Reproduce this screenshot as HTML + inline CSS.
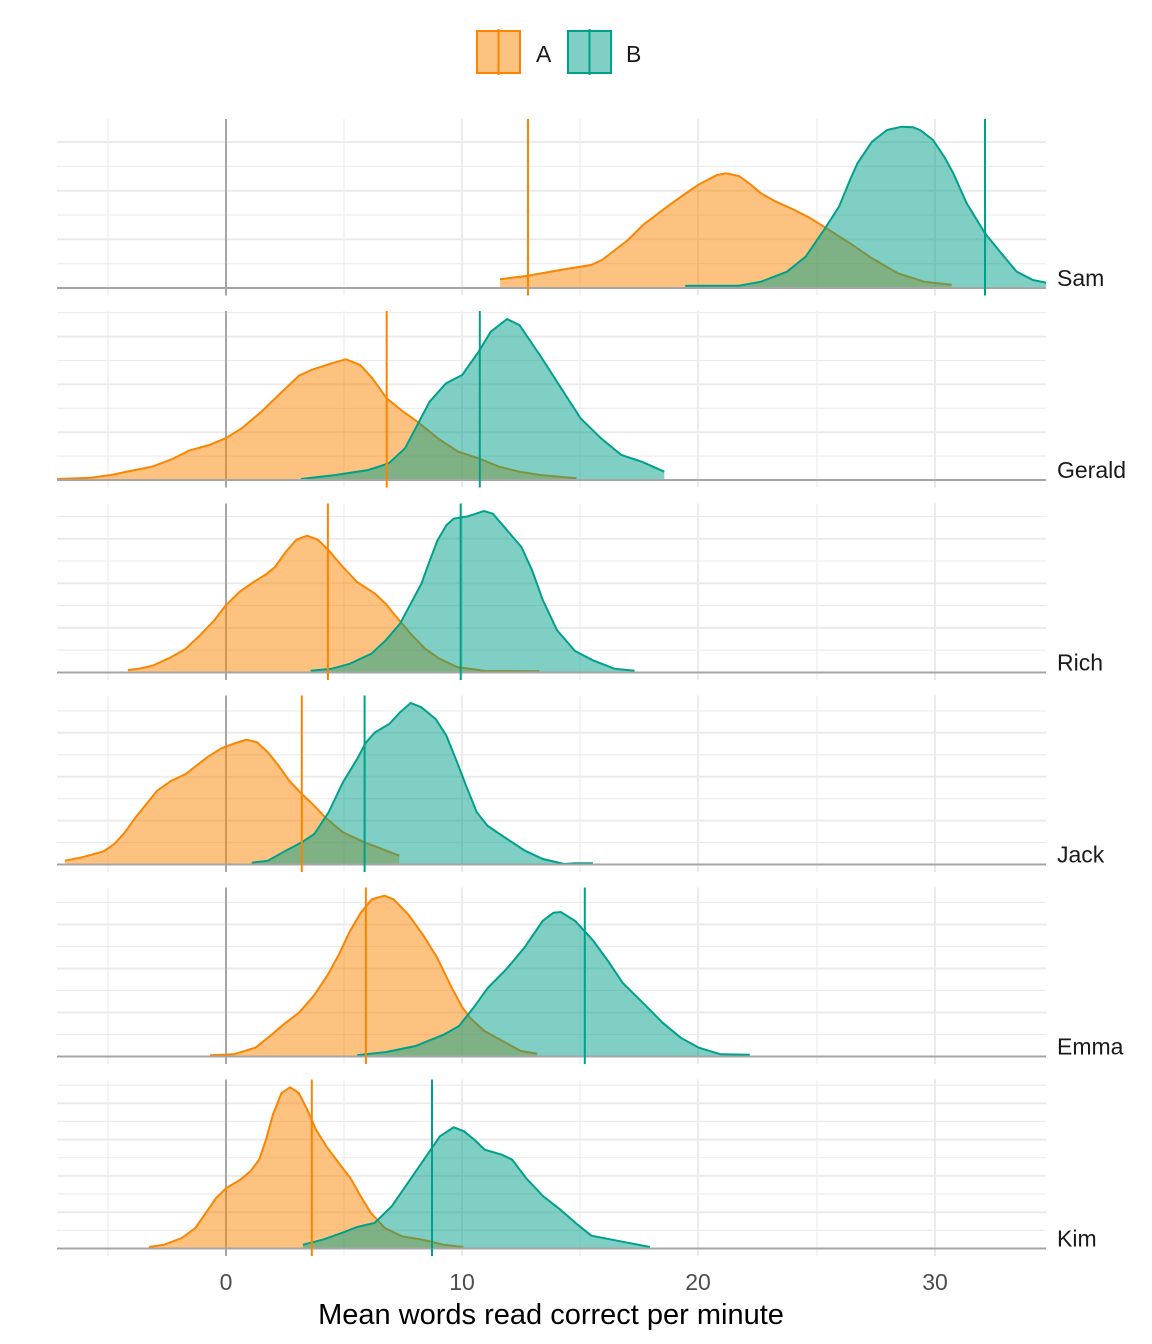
<!DOCTYPE html>
<html>
<head>
<meta charset="utf-8">
<style>
html,body{margin:0;padding:0;background:#fff;}
svg{display:block;}
text{font-family:"Liberation Sans",Arial,sans-serif;}
</style>
</head>
<body>
<svg width="1152" height="1344" viewBox="0 0 1152 1344" xmlns="http://www.w3.org/2000/svg">
<rect width="1152" height="1344" fill="#fff"/>
<defs>
<clipPath id="cp"><rect x="57" y="0" width="989" height="1344"/></clipPath>
</defs>

<!-- Legend -->
<rect x="477" y="31" width="43" height="42" fill="#FB8500" fill-opacity="0.5" stroke="#FB8500" stroke-width="2"/>
<line x1="498.5" y1="29" x2="498.5" y2="75" stroke="#FB8500" stroke-width="2"/>
<text x="536" y="62" font-size="23" fill="#1A1A1A">A</text>
<rect x="568" y="31" width="43" height="42" fill="#00A08A" fill-opacity="0.5" stroke="#00A08A" stroke-width="2"/>
<line x1="589.5" y1="29" x2="589.5" y2="75" stroke="#00A08A" stroke-width="2"/>
<text x="626" y="62" font-size="23" fill="#1A1A1A">B</text>

<!-- ============ SAM (baseline 288) ============ -->
<g>
<g stroke="#EBEBEB">
<line x1="57" x2="1046" y1="263.7" y2="263.7" stroke-width="1.1"/>
<line x1="57" x2="1046" y1="239.3" y2="239.3" stroke-width="2"/>
<line x1="57" x2="1046" y1="215" y2="215" stroke-width="1.1"/>
<line x1="57" x2="1046" y1="190.7" y2="190.7" stroke-width="2"/>
<line x1="57" x2="1046" y1="166.3" y2="166.3" stroke-width="1.1"/>
<line x1="57" x2="1046" y1="142" y2="142" stroke-width="2"/>
<line x1="108" x2="108" y1="119" y2="295.5" stroke-width="1.1"/>
<line x1="344" x2="344" y1="119" y2="295.5" stroke-width="1.1"/>
<line x1="462" x2="462" y1="119" y2="295.5" stroke-width="2"/>
<line x1="580" x2="580" y1="119" y2="295.5" stroke-width="1.1"/>
<line x1="698" x2="698" y1="119" y2="295.5" stroke-width="2"/>
<line x1="817" x2="817" y1="119" y2="295.5" stroke-width="1.1"/>
<line x1="935" x2="935" y1="119" y2="295.5" stroke-width="2"/>
</g>
<line x1="226" x2="226" y1="119" y2="295.5" stroke="#A6A6A6" stroke-width="2"/>
<g clip-path="url(#cp)">
<path d="M500,288 L500,279.3 528,275.7 560,270 591,265 602,260 615,250 628,240 643,225 665,208.3 682,196 698,185 717,175 726,173.3 739,176 750,184 761,193.3 776,201.7 794.5,210 810,218 824,226.7 850,243.3 872,258.3 898,273.3 924,281.7 951.7,284.7 L951.7,288 Z" fill="#FB8500" fill-opacity="0.5"/>
<polyline points="500,279.3 528,275.7 560,270 591,265 602,260 615,250 628,240 643,225 665,208.3 682,196 698,185 717,175 726,173.3 739,176 750,184 761,193.3 776,201.7 794.5,210 810,218 824,226.7 850,243.3 872,258.3 898,273.3 924,281.7 951.7,284.7" fill="none" stroke="#FB8500" stroke-width="2"/>
<path d="M685.3,288 L685.3,285.7 739,285.7 761,281.7 787,271.7 805.6,256.7 824,230 839,206.7 850,180 857.4,163.3 872,141.7 887,130 901.8,126.7 913,127.3 920,130 933,140 945,158 953.3,173.3 966.7,203.3 985,233.3 1000,251.7 1016.7,271.7 1033,280 1046,282.7 L1046,288 Z" fill="#00A08A" fill-opacity="0.5"/>
<polyline points="685.3,285.7 739,285.7 761,281.7 787,271.7 805.6,256.7 824,230 839,206.7 850,180 857.4,163.3 872,141.7 887,130 901.8,126.7 913,127.3 920,130 933,140 945,158 953.3,173.3 966.7,203.3 985,233.3 1000,251.7 1016.7,271.7 1033,280 1046,282.7" fill="none" stroke="#00A08A" stroke-width="2"/>
</g>
<line x1="57" x2="1046" y1="288" y2="288" stroke="#A6A6A6" stroke-width="2"/>
<line x1="528" x2="528" y1="119" y2="295.5" stroke="#FB8500" stroke-width="2"/>
<line x1="985" x2="985" y1="119" y2="295.5" stroke="#00A08A" stroke-width="2"/>
<text x="1057" y="286" font-size="23" fill="#1A1A1A">Sam</text>
</g>

<!-- ============ GERALD (baseline 480) ============ -->
<g>
<g stroke="#EBEBEB">
<line x1="57" x2="1046" y1="456.1" y2="456.1" stroke-width="1.1"/>
<line x1="57" x2="1046" y1="432.2" y2="432.2" stroke-width="2"/>
<line x1="57" x2="1046" y1="408.3" y2="408.3" stroke-width="1.1"/>
<line x1="57" x2="1046" y1="384.4" y2="384.4" stroke-width="2"/>
<line x1="57" x2="1046" y1="360.5" y2="360.5" stroke-width="1.1"/>
<line x1="57" x2="1046" y1="336.6" y2="336.6" stroke-width="2"/>
<line x1="57" x2="1046" y1="312.7" y2="312.7" stroke-width="1.1"/>
<line x1="108" x2="108" y1="311" y2="487.5" stroke-width="1.1"/>
<line x1="344" x2="344" y1="311" y2="487.5" stroke-width="1.1"/>
<line x1="462" x2="462" y1="311" y2="487.5" stroke-width="2"/>
<line x1="580" x2="580" y1="311" y2="487.5" stroke-width="1.1"/>
<line x1="698" x2="698" y1="311" y2="487.5" stroke-width="2"/>
<line x1="817" x2="817" y1="311" y2="487.5" stroke-width="1.1"/>
<line x1="935" x2="935" y1="311" y2="487.5" stroke-width="2"/>
</g>
<line x1="226" x2="226" y1="311" y2="487.5" stroke="#A6A6A6" stroke-width="2"/>
<g clip-path="url(#cp)">
<path d="M57,480 L57,479 90.8,477.7 111.2,475 130,471 152,466.7 172.4,459 188.8,450.7 209.2,445 225.5,438.3 241.8,428.3 262.2,411 278.6,395 299,375.7 311.2,370 331.6,363.3 346,359.3 360.2,365 372.4,378.3 386.7,398.3 401,410 417.3,421.7 437.8,438.3 458.2,451.7 478.6,458.3 499,466.7 519.4,471.7 539.8,475 576.5,478.3 L576.5,480 Z" fill="#FB8500" fill-opacity="0.5"/>
<polyline points="57,479 90.8,477.7 111.2,475 130,471 152,466.7 172.4,459 188.8,450.7 209.2,445 225.5,438.3 241.8,428.3 262.2,411 278.6,395 299,375.7 311.2,370 331.6,363.3 346,359.3 360.2,365 372.4,378.3 386.7,398.3 401,410 417.3,421.7 437.8,438.3 458.2,451.7 478.6,458.3 499,466.7 519.4,471.7 539.8,475 576.5,478.3" fill="none" stroke="#FB8500" stroke-width="2"/>
<path d="M301,480 L301,479 335.7,475 368.4,470 388.8,463.3 405,448.3 417.3,425 429.6,401.7 446,383.3 462.2,375 478.6,351.7 490.8,331.7 507,319 519.4,325 539.8,355 560.2,386.7 580.6,418.3 601,438.3 621.4,455 641.8,461.7 664.3,471.7 L664.3,480 Z" fill="#00A08A" fill-opacity="0.5"/>
<polyline points="301,479 335.7,475 368.4,470 388.8,463.3 405,448.3 417.3,425 429.6,401.7 446,383.3 462.2,375 478.6,351.7 490.8,331.7 507,319 519.4,325 539.8,355 560.2,386.7 580.6,418.3 601,438.3 621.4,455 641.8,461.7 664.3,471.7" fill="none" stroke="#00A08A" stroke-width="2"/>
</g>
<line x1="57" x2="1046" y1="480" y2="480" stroke="#A6A6A6" stroke-width="2"/>
<line x1="386.7" x2="386.7" y1="311" y2="487.5" stroke="#FB8500" stroke-width="2"/>
<line x1="479.8" x2="479.8" y1="311" y2="487.5" stroke="#00A08A" stroke-width="2"/>
<text x="1057" y="478" font-size="23" fill="#1A1A1A">Gerald</text>
</g>

<!-- ============ RICH (baseline 672.5) ============ -->
<g>
<g stroke="#EBEBEB">
<line x1="57" x2="1046" y1="650.2" y2="650.2" stroke-width="1.1"/>
<line x1="57" x2="1046" y1="627.9" y2="627.9" stroke-width="2"/>
<line x1="57" x2="1046" y1="605.6" y2="605.6" stroke-width="1.1"/>
<line x1="57" x2="1046" y1="583.3" y2="583.3" stroke-width="2"/>
<line x1="57" x2="1046" y1="561" y2="561" stroke-width="1.1"/>
<line x1="57" x2="1046" y1="538.7" y2="538.7" stroke-width="2"/>
<line x1="57" x2="1046" y1="516.4" y2="516.4" stroke-width="1.1"/>
<line x1="108" x2="108" y1="503.5" y2="680" stroke-width="1.1"/>
<line x1="344" x2="344" y1="503.5" y2="680" stroke-width="1.1"/>
<line x1="462" x2="462" y1="503.5" y2="680" stroke-width="2"/>
<line x1="580" x2="580" y1="503.5" y2="680" stroke-width="1.1"/>
<line x1="698" x2="698" y1="503.5" y2="680" stroke-width="2"/>
<line x1="817" x2="817" y1="503.5" y2="680" stroke-width="1.1"/>
<line x1="935" x2="935" y1="503.5" y2="680" stroke-width="2"/>
</g>
<line x1="226" x2="226" y1="503.5" y2="680" stroke="#A6A6A6" stroke-width="2"/>
<g clip-path="url(#cp)">
<path d="M127.9,672.5 L127.9,670 139.3,668.7 153.6,665.3 171.4,657 185.7,648.7 200,635.3 214.3,620.3 225,606.3 239.3,592 253.6,582 266,574.3 275,567 285.7,552 296.4,539.7 307.1,535.7 317.9,539.7 328.6,550.3 342.9,567 357.1,582 375,593.7 385.7,603.7 396.4,617 410.7,633.7 425,648.7 439.3,658.7 457.1,667 485.7,671 539.3,671.3 L539.3,672.5 Z" fill="#FB8500" fill-opacity="0.5"/>
<polyline points="127.9,670 139.3,668.7 153.6,665.3 171.4,657 185.7,648.7 200,635.3 214.3,620.3 225,606.3 239.3,592 253.6,582 266,574.3 275,567 285.7,552 296.4,539.7 307.1,535.7 317.9,539.7 328.6,550.3 342.9,567 357.1,582 375,593.7 385.7,603.7 396.4,617 410.7,633.7 425,648.7 439.3,658.7 457.1,667 485.7,671 539.3,671.3" fill="none" stroke="#FB8500" stroke-width="2"/>
<path d="M310.7,672.5 L310.7,670.7 332.1,668.7 350,663.7 371.4,653.7 385.7,640.3 400,623.7 410.7,603.7 421.4,583.7 428.6,563.7 437.5,540.3 446.4,525.3 453.6,518.7 467.9,516.3 483.9,511 492.9,513.7 507.1,530.3 521.4,547 532.1,570.3 542.9,600.3 557.1,630.3 575,651 592.9,660.3 614.3,668.7 634.6,670.7 L634.6,672.5 Z" fill="#00A08A" fill-opacity="0.5"/>
<polyline points="310.7,670.7 332.1,668.7 350,663.7 371.4,653.7 385.7,640.3 400,623.7 410.7,603.7 421.4,583.7 428.6,563.7 437.5,540.3 446.4,525.3 453.6,518.7 467.9,516.3 483.9,511 492.9,513.7 507.1,530.3 521.4,547 532.1,570.3 542.9,600.3 557.1,630.3 575,651 592.9,660.3 614.3,668.7 634.6,670.7" fill="none" stroke="#00A08A" stroke-width="2"/>
</g>
<line x1="57" x2="1046" y1="672.5" y2="672.5" stroke="#A6A6A6" stroke-width="2"/>
<line x1="327.9" x2="327.9" y1="503.5" y2="680" stroke="#FB8500" stroke-width="2"/>
<line x1="460.7" x2="460.7" y1="503.5" y2="680" stroke="#00A08A" stroke-width="2"/>
<text x="1057" y="670.5" font-size="23" fill="#1A1A1A">Rich</text>
</g>

<!-- ============ JACK (baseline 864.5) ============ -->
<g>
<g stroke="#EBEBEB">
<line x1="57" x2="1046" y1="842.6" y2="842.6" stroke-width="1.1"/>
<line x1="57" x2="1046" y1="820.6" y2="820.6" stroke-width="2"/>
<line x1="57" x2="1046" y1="798.7" y2="798.7" stroke-width="1.1"/>
<line x1="57" x2="1046" y1="776.7" y2="776.7" stroke-width="2"/>
<line x1="57" x2="1046" y1="754.8" y2="754.8" stroke-width="1.1"/>
<line x1="57" x2="1046" y1="732.8" y2="732.8" stroke-width="2"/>
<line x1="57" x2="1046" y1="710.9" y2="710.9" stroke-width="1.1"/>
<line x1="108" x2="108" y1="695.5" y2="872" stroke-width="1.1"/>
<line x1="344" x2="344" y1="695.5" y2="872" stroke-width="1.1"/>
<line x1="462" x2="462" y1="695.5" y2="872" stroke-width="2"/>
<line x1="580" x2="580" y1="695.5" y2="872" stroke-width="1.1"/>
<line x1="698" x2="698" y1="695.5" y2="872" stroke-width="2"/>
<line x1="817" x2="817" y1="695.5" y2="872" stroke-width="1.1"/>
<line x1="935" x2="935" y1="695.5" y2="872" stroke-width="2"/>
</g>
<line x1="226" x2="226" y1="695.5" y2="872" stroke="#A6A6A6" stroke-width="2"/>
<g clip-path="url(#cp)">
<path d="M65,864.5 L65,860.7 82.1,857.3 103.6,851.3 114.3,844 125,832.3 135.7,817.3 146.4,804 157.1,790.7 171.4,780.7 185.7,774 196.4,765.7 207.1,757.3 221.4,748.3 235.7,743 246.4,739.7 257.1,742.3 267.9,752.3 278.6,765.7 289.3,780.7 301.8,794 314.3,805.7 325,817.3 342.9,832.3 364.3,842.3 382.1,849 399.3,855.7 L399.3,864.5 Z" fill="#FB8500" fill-opacity="0.5"/>
<polyline points="65,860.7 82.1,857.3 103.6,851.3 114.3,844 125,832.3 135.7,817.3 146.4,804 157.1,790.7 171.4,780.7 185.7,774 196.4,765.7 207.1,757.3 221.4,748.3 235.7,743 246.4,739.7 257.1,742.3 267.9,752.3 278.6,765.7 289.3,780.7 301.8,794 314.3,805.7 325,817.3 342.9,832.3 364.3,842.3 382.1,849 399.3,855.7" fill="none" stroke="#FB8500" stroke-width="2"/>
<path d="M251.8,864.5 L251.8,862.7 267.9,860.7 285.7,850.7 301.8,842.3 314.3,834 328.6,812.3 342.9,782.3 357.1,759 366.1,742.3 375,732.3 389.3,724 400,712.3 410.7,703 421.4,707.3 435.7,719 446.4,735.7 457.1,762.3 466.1,785.7 476.8,812.3 487.5,825.7 507.1,839 525,850.7 542.9,859 564.3,864 575,863.3 592.9,863.3 L592.9,864.5 Z" fill="#00A08A" fill-opacity="0.5"/>
<polyline points="251.8,862.7 267.9,860.7 285.7,850.7 301.8,842.3 314.3,834 328.6,812.3 342.9,782.3 357.1,759 366.1,742.3 375,732.3 389.3,724 400,712.3 410.7,703 421.4,707.3 435.7,719 446.4,735.7 457.1,762.3 466.1,785.7 476.8,812.3 487.5,825.7 507.1,839 525,850.7 542.9,859 564.3,864 575,863.3 592.9,863.3" fill="none" stroke="#00A08A" stroke-width="2"/>
</g>
<line x1="57" x2="1046" y1="864.5" y2="864.5" stroke="#A6A6A6" stroke-width="2"/>
<line x1="301.8" x2="301.8" y1="695.5" y2="872" stroke="#FB8500" stroke-width="2"/>
<line x1="364.6" x2="364.6" y1="695.5" y2="872" stroke="#00A08A" stroke-width="2"/>
<text x="1057" y="862.5" font-size="23" fill="#1A1A1A">Jack</text>
</g>

<!-- ============ EMMA (baseline 1056.5) ============ -->
<g>
<g stroke="#EBEBEB">
<line x1="57" x2="1046" y1="1034.5" y2="1034.5" stroke-width="1.1"/>
<line x1="57" x2="1046" y1="1012.5" y2="1012.5" stroke-width="2"/>
<line x1="57" x2="1046" y1="990.5" y2="990.5" stroke-width="1.1"/>
<line x1="57" x2="1046" y1="968.5" y2="968.5" stroke-width="2"/>
<line x1="57" x2="1046" y1="946.5" y2="946.5" stroke-width="1.1"/>
<line x1="57" x2="1046" y1="924.5" y2="924.5" stroke-width="2"/>
<line x1="57" x2="1046" y1="902.5" y2="902.5" stroke-width="1.1"/>
<line x1="108" x2="108" y1="887.5" y2="1064" stroke-width="1.1"/>
<line x1="344" x2="344" y1="887.5" y2="1064" stroke-width="1.1"/>
<line x1="462" x2="462" y1="887.5" y2="1064" stroke-width="2"/>
<line x1="580" x2="580" y1="887.5" y2="1064" stroke-width="1.1"/>
<line x1="698" x2="698" y1="887.5" y2="1064" stroke-width="2"/>
<line x1="817" x2="817" y1="887.5" y2="1064" stroke-width="1.1"/>
<line x1="935" x2="935" y1="887.5" y2="1064" stroke-width="2"/>
</g>
<line x1="226" x2="226" y1="887.5" y2="1064" stroke="#A6A6A6" stroke-width="2"/>
<g clip-path="url(#cp)">
<path d="M210,1056.5 L210,1055.3 233.6,1054.3 255.4,1047.7 270,1036 284.5,1023.7 299,1012.7 313.6,996 328.1,974.3 339,954.3 350,931 360.8,912.7 371.8,899.3 384.5,895.7 393.6,899.3 408.1,914.3 422.6,934.3 437.2,957.7 451.7,987.7 462.6,1007.7 469.9,1017.7 484.4,1031 502.6,1041 520.8,1051 537.2,1053.7 L537.2,1056.5 Z" fill="#FB8500" fill-opacity="0.5"/>
<polyline points="210,1055.3 233.6,1054.3 255.4,1047.7 270,1036 284.5,1023.7 299,1012.7 313.6,996 328.1,974.3 339,954.3 350,931 360.8,912.7 371.8,899.3 384.5,895.7 393.6,899.3 408.1,914.3 422.6,934.3 437.2,957.7 451.7,987.7 462.6,1007.7 469.9,1017.7 484.4,1031 502.6,1041 520.8,1051 537.2,1053.7" fill="none" stroke="#FB8500" stroke-width="2"/>
<path d="M357.2,1056.5 L357.2,1055.3 386.3,1052 415.4,1046 444.5,1034.3 459,1026 473.5,1007.7 488,987.7 506.2,969.3 524.4,947.7 542.6,921 553.5,912.7 560.8,912 575.3,921 593.5,941 608,961 622.6,982.7 644.4,1004.3 662.6,1022.7 680.7,1037.7 698.9,1047.7 720.7,1054.3 749.8,1054.7 L749.8,1056.5 Z" fill="#00A08A" fill-opacity="0.5"/>
<polyline points="357.2,1055.3 386.3,1052 415.4,1046 444.5,1034.3 459,1026 473.5,1007.7 488,987.7 506.2,969.3 524.4,947.7 542.6,921 553.5,912.7 560.8,912 575.3,921 593.5,941 608,961 622.6,982.7 644.4,1004.3 662.6,1022.7 680.7,1037.7 698.9,1047.7 720.7,1054.3 749.8,1054.7" fill="none" stroke="#00A08A" stroke-width="2"/>
</g>
<line x1="57" x2="1046" y1="1056.5" y2="1056.5" stroke="#A6A6A6" stroke-width="2"/>
<line x1="365.9" x2="365.9" y1="887.5" y2="1064" stroke="#FB8500" stroke-width="2"/>
<line x1="584.8" x2="584.8" y1="887.5" y2="1064" stroke="#00A08A" stroke-width="2"/>
<text x="1057" y="1054.5" font-size="23" fill="#1A1A1A">Emma</text>
</g>

<!-- ============ KIM (baseline 1248.5) ============ -->
<g>
<g stroke="#EBEBEB">
<line x1="57" x2="1046" y1="1230.35" y2="1230.35" stroke-width="1.1"/>
<line x1="57" x2="1046" y1="1212.2" y2="1212.2" stroke-width="2"/>
<line x1="57" x2="1046" y1="1194.05" y2="1194.05" stroke-width="1.1"/>
<line x1="57" x2="1046" y1="1175.9" y2="1175.9" stroke-width="2"/>
<line x1="57" x2="1046" y1="1157.75" y2="1157.75" stroke-width="1.1"/>
<line x1="57" x2="1046" y1="1139.6" y2="1139.6" stroke-width="2"/>
<line x1="57" x2="1046" y1="1121.45" y2="1121.45" stroke-width="1.1"/>
<line x1="57" x2="1046" y1="1103.3" y2="1103.3" stroke-width="2"/>
<line x1="57" x2="1046" y1="1085.15" y2="1085.15" stroke-width="1.1"/>
<line x1="108" x2="108" y1="1079.5" y2="1256" stroke-width="1.1"/>
<line x1="344" x2="344" y1="1079.5" y2="1256" stroke-width="1.1"/>
<line x1="462" x2="462" y1="1079.5" y2="1256" stroke-width="2"/>
<line x1="580" x2="580" y1="1079.5" y2="1256" stroke-width="1.1"/>
<line x1="698" x2="698" y1="1079.5" y2="1256" stroke-width="2"/>
<line x1="817" x2="817" y1="1079.5" y2="1256" stroke-width="1.1"/>
<line x1="935" x2="935" y1="1079.5" y2="1256" stroke-width="2"/>
</g>
<line x1="226" x2="226" y1="1079.5" y2="1256" stroke="#A6A6A6" stroke-width="2"/>
<g clip-path="url(#cp)">
<path d="M148.9,1248.5 L148.9,1247 164.4,1244.7 181.7,1238 195.4,1228 205.8,1213 216.1,1198 226.4,1188 240.2,1179.7 250.5,1171.3 259.1,1159.7 266,1139.7 272.9,1114.7 281.5,1093 290.1,1087.3 298.7,1093 307.3,1109.7 316,1129.7 326.3,1146.3 340.1,1164.7 350.4,1178 360.7,1196.3 371,1213 384.8,1228 402,1236.3 422.7,1239.7 443.4,1244.7 463.3,1247 L463.3,1248.5 Z" fill="#FB8500" fill-opacity="0.5"/>
<polyline points="148.9,1247 164.4,1244.7 181.7,1238 195.4,1228 205.8,1213 216.1,1198 226.4,1188 240.2,1179.7 250.5,1171.3 259.1,1159.7 266,1139.7 272.9,1114.7 281.5,1093 290.1,1087.3 298.7,1093 307.3,1109.7 316,1129.7 326.3,1146.3 340.1,1164.7 350.4,1178 360.7,1196.3 371,1213 384.8,1228 402,1236.3 422.7,1239.7 443.4,1244.7 463.3,1247" fill="none" stroke="#FB8500" stroke-width="2"/>
<path d="M302.9,1248.5 L302.9,1244.7 322.8,1239.7 343.5,1232.3 357.3,1227 374.5,1223 391.7,1206.3 405.5,1186.3 419.3,1166.3 429.6,1151.3 439.9,1136.3 453.7,1127.3 464,1131.3 474.4,1139.7 484.7,1149.7 501.9,1154.7 512.2,1159.7 526,1178 543.2,1196.3 560.4,1209.7 577.7,1224.7 591.4,1235.7 612.1,1239.7 632.8,1243.7 650,1247 L650,1248.5 Z" fill="#00A08A" fill-opacity="0.5"/>
<polyline points="302.9,1244.7 322.8,1239.7 343.5,1232.3 357.3,1227 374.5,1223 391.7,1206.3 405.5,1186.3 419.3,1166.3 429.6,1151.3 439.9,1136.3 453.7,1127.3 464,1131.3 474.4,1139.7 484.7,1149.7 501.9,1154.7 512.2,1159.7 526,1178 543.2,1196.3 560.4,1209.7 577.7,1224.7 591.4,1235.7 612.1,1239.7 632.8,1243.7 650,1247" fill="none" stroke="#00A08A" stroke-width="2"/>
</g>
<line x1="57" x2="1046" y1="1248.5" y2="1248.5" stroke="#A6A6A6" stroke-width="2"/>
<line x1="311.8" x2="311.8" y1="1079.5" y2="1256" stroke="#FB8500" stroke-width="2"/>
<line x1="432" x2="432" y1="1079.5" y2="1256" stroke="#00A08A" stroke-width="2"/>
<text x="1057" y="1246.5" font-size="23" fill="#1A1A1A">Kim</text>
</g>

<!-- X axis tick labels -->
<g font-size="23" fill="#4D4D4D" text-anchor="middle">
<text x="226" y="1290">0</text>
<text x="462" y="1290">10</text>
<text x="698" y="1290">20</text>
<text x="935" y="1290">30</text>
</g>
<text x="551" y="1324" font-size="29" fill="#000" text-anchor="middle">Mean words read correct per minute</text>
</svg>
</body>
</html>
